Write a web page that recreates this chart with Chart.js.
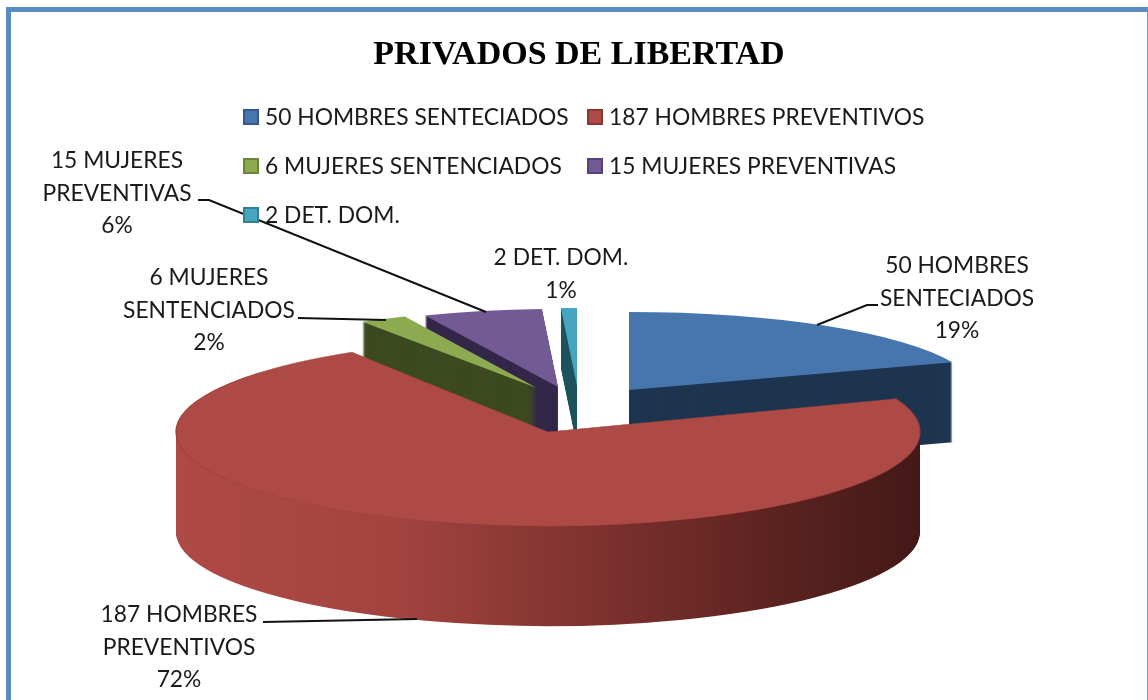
<!DOCTYPE html>
<html>
<head>
<meta charset="utf-8">
<title>Privados de libertad</title>
<script src="https://cdn.jsdelivr.net/npm/chart.js@4/dist/chart.umd.min.js"></script>
<style>
  html, body { margin: 0; padding: 0; background: #fff; }
  canvas { display: block; }
</style>
</head>
<body>
<canvas id="chart" width="1148" height="700"></canvas>
<script>
const titleText = 'PRIVADOS DE LIBERTAD';
const categories = [
  '50 HOMBRES SENTECIADOS',
  '187 HOMBRES PREVENTIVOS',
  '6 MUJERES SENTENCIADOS',
  '15 MUJERES PREVENTIVAS',
  '2 DET. DOM.'
];
const values = [50, 187, 6, 15, 2];

// Slice colours
const topColors = ['#4776ae', '#ae4a45', '#8cab50', '#725a94', '#46a5bf'];
const wallColors = ['#1e3550', null, '#3d4a20', '#33274a', '#1f535f'];
const legendEdges = ['#35588a', '#8a3633', '#6c8538', '#57427a', '#308096'];

// Where each slice sits in the tilted view (Excel 3D look: the slices do not share a centre)
const sliceApexX = [629, 548, 537, 558, 577];
const sliceApexY = [390, 432, 388, 387, 386];
const sliceRadiusX = [346, 372, 331, 333, 333];
const sliceRadiusY = [78, 94, 78, 78, 78];
const sliceDepth = [80, 100, 60, 60, 60];
const paintOrder = [0, 4, 3, 2, 1];

// Legend layout: swatch left edge and row centre for each category
const legendX = [244, 588, 244, 588, 244];
const legendY = [118, 118, 167, 167, 216];

// Data label text blocks and their leader lines
const labelLines = [
  ['50 HOMBRES', 'SENTECIADOS'],
  ['187 HOMBRES', 'PREVENTIVOS'],
  ['6 MUJERES', 'SENTENCIADOS'],
  ['15 MUJERES', 'PREVENTIVAS'],
  ['2 DET. DOM.']
];
const labelCenterX = [957, 179, 209, 117, 561];
const labelFirstY = [266, 615, 278, 161, 258];
const labelLineGap = 32.5;
const leaderLines = [
  [[878, 305], [867, 305], [817, 325]],
  [[263, 622], [417, 619]],
  [[298, 318], [386, 320]],
  [[198, 200], [209, 200], [486, 312]],
  []
];

const sansFont = 'Lato, "Open Sans", sans-serif';
const textSize = 22.8;

function total() {
  return values.reduce((a, b) => a + b, 0);
}

const framePlugin = {
  id: 'frame',
  beforeDraw(chart) {
    const { ctx, width, height } = chart;
    ctx.save();
    ctx.fillStyle = '#ffffff';
    ctx.fillRect(0, 0, width, height);
    ctx.fillStyle = '#5b8bc3';
    ctx.fillRect(6, 7, width - 6, 5);
    ctx.fillRect(6, 7, 5, height - 7);
    ctx.fillStyle = '#7a9cc9';
    ctx.fillRect(width - 1, 12, 1, height - 12);
    ctx.restore();
  }
};

// Paints the library's arc elements squashed, with a stacked side wall under each
const tiltPlugin = {
  id: 'tilt',
  beforeDatasetDraw(chart) {
    const { ctx } = chart;
    const arcs = chart.getDatasetMeta(0).data;
    paintOrder.forEach((i) => {
      const arc = arcs[i];
      const R = arc.outerRadius;
      const place = (dy) => {
        ctx.translate(sliceApexX[i], sliceApexY[i] + dy);
        ctx.scale(sliceRadiusX[i] / R, sliceRadiusY[i] / R);
        ctx.translate(-arc.x, -arc.y);
      };

      let wallFill = wallColors[i];
      if (!wallFill) {
        const grad = ctx.createLinearGradient(arc.x - R, 0, arc.x + R, 0);
        grad.addColorStop(0, '#ae4a45');
        grad.addColorStop(0.3, '#a24340');
        grad.addColorStop(0.55, '#80332f');
        grad.addColorStop(0.8, '#5c2320');
        grad.addColorStop(1, '#431917');
        wallFill = grad;
      }
      const wall = Object.create(arc);
      wall.options = Object.create(arc.options);
      wall.options.backgroundColor = wallFill;
      wall.options.borderWidth = 0;
      for (let d = sliceDepth[i]; d > 0; d--) {
        ctx.save();
        place(d);
        wall.draw(ctx);
        ctx.restore();
      }

      ctx.save();
      place(0);
      arc.draw(ctx);
      ctx.restore();
    });
    return false;
  }
};

const labelPlugin = {
  id: 'sliceLabels',
  afterDatasetsDraw(chart) {
    const { ctx } = chart;
    ctx.save();
    ctx.strokeStyle = '#111';
    ctx.lineWidth = 2;
    leaderLines.forEach((pts) => {
      if (!pts.length) return;
      ctx.beginPath();
      pts.forEach((p, j) => (j ? ctx.lineTo(p[0], p[1]) : ctx.moveTo(p[0], p[1])));
      ctx.stroke();
    });
    ctx.fillStyle = '#1a1a1a';
    ctx.font = textSize + 'px ' + sansFont;
    ctx.textAlign = 'center';
    ctx.textBaseline = 'middle';
    labelLines.forEach((lines, i) => {
      const pct = Math.round(values[i] / total() * 100) + '%';
      lines.concat(pct).forEach((t, j) => {
        ctx.fillText(t, labelCenterX[i], labelFirstY[i] + j * labelLineGap);
      });
    });

    // legend: the built-in one cannot space rows this far apart without spreading the columns too
    ctx.textAlign = 'left';
    ctx.lineWidth = 2;
    categories.forEach((name, i) => {
      ctx.fillStyle = topColors[i];
      ctx.strokeStyle = legendEdges[i];
      ctx.fillRect(legendX[i], legendY[i] - 8, 14, 14);
      ctx.strokeRect(legendX[i], legendY[i] - 8, 14, 14);
      ctx.fillStyle = '#1a1a1a';
      ctx.fillText(name, legendX[i] + 21, legendY[i]);
    });
    ctx.restore();
  }
};

new Chart(document.getElementById('chart'), {
  type: 'pie',
  data: {
    labels: categories,
    datasets: [{
      data: values,
      backgroundColor: topColors,
      borderColor: ['#4776ae', '#9c403d', '#8cab50', '#725a94', '#46a5bf'],
      borderWidth: [0, 1, 0, 0, 0]
    }]
  },
  options: {
    responsive: false,
    animation: false,
    layout: { padding: { left: 10, right: 0, top: 35, bottom: 10 } },
    plugins: {
      title: {
        display: true,
        text: titleText,
        color: '#000',
        font: { family: '"Liberation Serif", serif', size: 34, weight: 'bold' },
        padding: { top: 0, bottom: 18 }
      },
      legend: { display: false },
      tooltip: { enabled: false }
    }
  },
  plugins: [framePlugin, tiltPlugin, labelPlugin]
});
</script>
</body>
</html>
